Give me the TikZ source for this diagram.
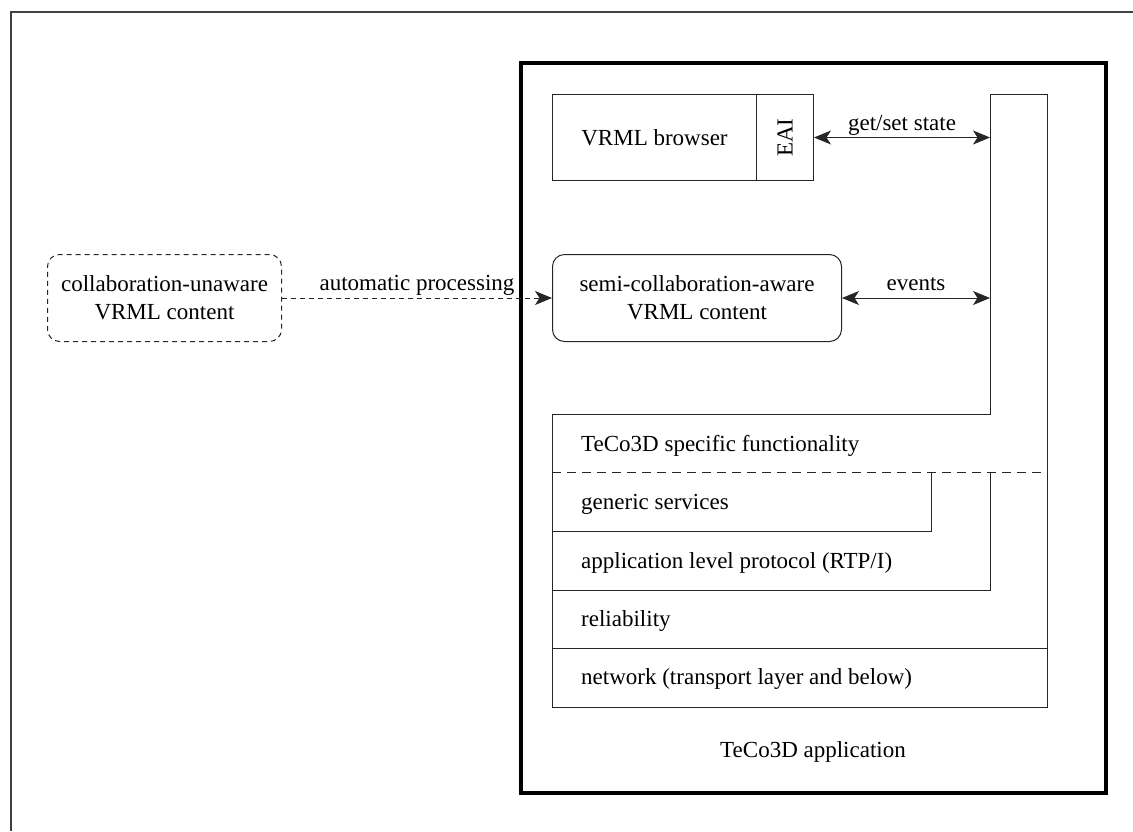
\documentclass[tikz,border=0pt]{standalone}
\usepackage{fontspec}
\setmainfont{Liberation Serif}
\usetikzlibrary{arrows.meta}
\begin{document}
\begin{tikzpicture}[x=1pt,y=-1pt,
  every node/.style={font=\fontsize{23}{28}\selectfont, inner sep=0pt},
  thin line/.style={line width=1pt, draw=black!85},
  tip/.style={-{Stealth[length=17pt,width=14pt,inset=4.5pt]}},
  both tips/.style={{Stealth[length=17pt,width=14pt,inset=4.5pt]}-{Stealth[length=17pt,width=14pt,inset=4.5pt]}},
  block/.style={thin line, anchor=north west, align=center},
  conn label/.style={anchor=base, yshift=7.5pt},
  layer text/.style={anchor=base west}]

\useasboundingbox (0,0) rectangle (1133,831);

% page frame (open to the right and bottom)
\draw[line width=1.5pt, black!75] (1133,12) -- (11,12) -- (11,831);

% application frame
\draw[line width=3.5pt] (521,63) rectangle (1106,793);
\node[anchor=base] (app) at (813,757) {TeCo3D application};

% VRML browser with its EAI part
\node[block, minimum width=204pt, minimum height=86pt] (browser) at (552,94) {VRML browser};
\node[block, minimum width=57pt, minimum height=86pt] (eai) at (756,94) {};
\node[rotate=90] (eaitext) at (eai.center) {EAI};

% content boxes
\node[block, rounded corners=12pt, minimum width=289pt, minimum height=87pt] (semi) at (552,254)
  {semi-collaboration-aware\\VRML content};
\node[block, dashed, dash pattern=on 5pt off 4pt, rounded corners=12pt, minimum width=234pt, minimum height=87pt] (unaware) at (47,254)
  {collaboration-unaware\\VRML content};

% layered TeCo3D stack
\coordinate (coltop) at (990,94);
\coordinate (colright) at (1047,94);
\coordinate (stacktop) at (552,414);
\coordinate (split) at (552,472);
\coordinate (genbot) at (931,531);
\coordinate (protbot) at (990,590);
\coordinate (relbot) at (552,648);
\coordinate (stackbot) at (1047,707);

\draw[thin line] (stacktop) -- (stacktop -| coltop) -- (coltop) -- (colright)
  -- (stackbot) -- (stackbot -| stacktop) -- cycle;
\draw[thin line, dashed, dash pattern=on 9pt off 6pt] (split) -- (split -| colright);
\draw[thin line] (genbot -| stacktop) -- (genbot) -- (genbot |- split);
\draw[thin line] (protbot -| stacktop) -- (protbot) -- (protbot |- split);
\draw[thin line] (relbot) -- (relbot -| colright);

\node[layer text] (specific) at (581,451) {TeCo3D specific functionality};
\node[layer text] (generic) at (581,509) {generic services};
\node[layer text] (protocol) at (581,568) {application level protocol (RTP/I)};
\node[layer text] (reliab) at (581,626) {reliability};
\node[layer text] (network) at (581,684) {network (transport layer and below)};

% connectors
\draw[thin line, both tips] (eai.east) -- (eai.east -| coltop)
  node[midway, conn label] (getset) {get/set state};
\draw[thin line, both tips] (semi.east) -- (semi.east -| coltop)
  node[midway, conn label] (events) {events};
\draw[thin line, dashed, dash pattern=on 5pt off 4pt, tip] (unaware.east) -- (semi.west)
  node[midway, conn label] (autoproc) {automatic processing};
\end{tikzpicture}
\end{document}
